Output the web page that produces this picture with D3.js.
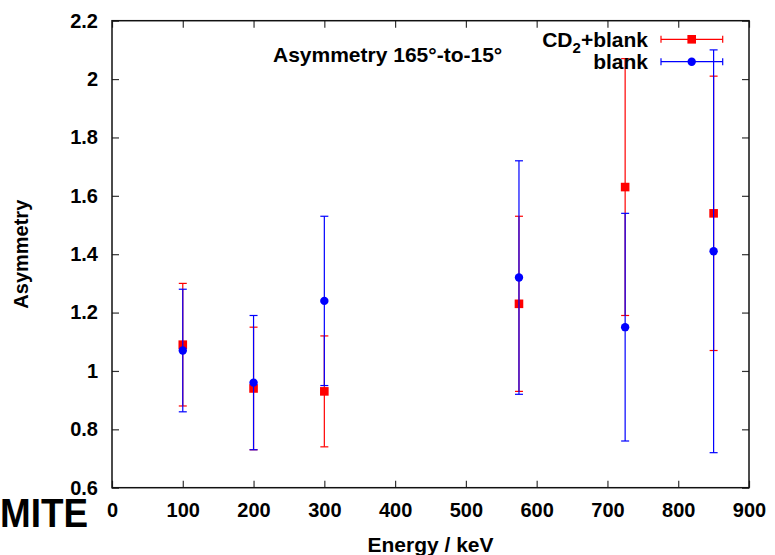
<!DOCTYPE html>
<html>
<head>
<meta charset="utf-8">
<script src="https://cdn.jsdelivr.net/npm/d3@7"></script>
<style>
  body { margin: 0; background: #fff; }
  text { font-family: "Liberation Sans", Arial, sans-serif; font-weight: bold; fill: #000; }
</style>
</head>
<body>
<div class="svg-container"></div>
<script>
// data
const energies = [100, 200, 300, 575, 725, 850];
const cd2Asym = [1.09, 0.94, 0.93, 1.23, 1.63, 1.54];
const cd2Low = [0.88, 0.73, 0.74, 0.93, 1.19, 1.07];
const cd2High = [1.30, 1.15, 1.12, 1.53, 2.07, 2.01];
const blankAsym = [1.07, 0.96, 1.24, 1.32, 1.15, 1.41];
const blankLow = [0.86, 0.73, 0.95, 0.92, 0.76, 0.72];
const blankHigh = [1.28, 1.19, 1.53, 1.72, 1.54, 2.10];
const xTicks = [0, 100, 200, 300, 400, 500, 600, 700, 800, 900];
const yTicks = [0.6, 0.8, 1, 1.2, 1.4, 1.6, 1.8, 2, 2.2];

const width = 775;
const height = 555;
const plot = { left: 112, right: 749, top: 20.7, bottom: 487.7 };
const tickLen = 7;
const capHalf = 4;

const svg = d3.select('.svg-container')
  .append('svg')
  .attr('width', width)
  .attr('height', height);

const x = d3.scaleLinear().domain([0, 900]).range([plot.left, plot.right]);
const y = d3.scaleLinear().domain([0.6, 2.2]).range([plot.bottom, plot.top]);

// axes with inward ticks on all four sides
const styleAxis = g => {
  g.select('.domain').remove();
  g.selectAll('.tick line').attr('stroke', '#333').attr('stroke-width', 1.2);
  g.selectAll('.tick text').style('font-size', '20px').attr('fill', '#000');
};

svg.append('g')
  .attr('transform', `translate(0,${plot.bottom})`)
  .call(d3.axisBottom(x).tickValues(xTicks).tickSizeInner(-tickLen).tickSizeOuter(0).tickPadding(15))
  .call(styleAxis);

svg.append('g')
  .attr('transform', `translate(0,${plot.top})`)
  .call(d3.axisTop(x).tickValues(xTicks).tickSizeInner(-tickLen).tickSizeOuter(0).tickFormat(''))
  .call(styleAxis);

svg.append('g')
  .attr('transform', `translate(${plot.left},0)`)
  .call(d3.axisLeft(y).tickValues(yTicks).tickSizeInner(-tickLen).tickSizeOuter(0).tickPadding(14)
    .tickFormat(d3.format('~g')))
  .call(styleAxis);

svg.append('g')
  .attr('transform', `translate(${plot.right},0)`)
  .call(d3.axisRight(y).tickValues(yTicks).tickSizeInner(-tickLen).tickSizeOuter(0).tickFormat(''))
  .call(styleAxis);

// frame
svg.append('rect')
  .attr('x', plot.left)
  .attr('y', plot.top)
  .attr('width', plot.right - plot.left)
  .attr('height', plot.bottom - plot.top)
  .attr('fill', 'none')
  .attr('stroke', '#111')
  .attr('stroke-width', 1.5);

// axis labels and title
svg.append('text')
  .attr('transform', `translate(28,${(plot.top + plot.bottom) / 2}) rotate(-90)`)
  .attr('text-anchor', 'middle')
  .style('font-size', '20px')
  .text('Asymmetry');

svg.append('text')
  .attr('x', (plot.left + plot.right) / 2)
  .attr('y', 552)
  .attr('text-anchor', 'middle')
  .style('font-size', '21px')
  .text('Energy / keV');

svg.append('text')
  .attr('x', 273)
  .attr('y', 62)
  .style('font-size', '21px')
  .text('Asymmetry 165°-to-15°');

// series: red first, blue drawn on top
const series = [
  { name: 'cd2', color: '#ff0000', vals: cd2Asym, lo: cd2Low, hi: cd2High, shape: 'square' },
  { name: 'blank', color: '#0000ff', vals: blankAsym, lo: blankLow, hi: blankHigh, shape: 'circle' }
];

series.forEach(s => {
  const pts = energies.map((e, i) => ({ e, v: s.vals[i], lo: s.lo[i], hi: s.hi[i] }));
  const g = svg.append('g').attr('stroke', s.color).attr('fill', s.color);

  g.selectAll('line.bar').data(pts).enter().append('line')
    .attr('x1', d => x(d.e)).attr('x2', d => x(d.e))
    .attr('y1', d => y(d.lo)).attr('y2', d => y(d.hi))
    .attr('stroke-width', 1.2);

  ['lo', 'hi'].forEach(k => {
    g.selectAll(`line.cap-${k}`).data(pts).enter().append('line')
      .attr('x1', d => x(d.e) - capHalf).attr('x2', d => x(d.e) + capHalf)
      .attr('y1', d => y(d[k])).attr('y2', d => y(d[k]))
      .attr('stroke-width', 1.2);
  });

  if (s.shape === 'square') {
    g.selectAll('rect').data(pts).enter().append('rect')
      .attr('x', d => x(d.e) - 4.3).attr('y', d => y(d.v) - 4.3)
      .attr('width', 8.6).attr('height', 8.6)
      .attr('stroke', 'none');
  } else {
    g.selectAll('circle').data(pts).enter().append('circle')
      .attr('cx', d => x(d.e)).attr('cy', d => y(d.v))
      .attr('r', 4.2)
      .attr('stroke', 'none');
  }
});

// legend
const legend = [
  { label: 'cd2', color: '#ff0000', shape: 'square', y: 39.3 },
  { label: 'blank', color: '#0000ff', shape: 'circle', y: 61.7 }
];
const keyX1 = 661, keyX2 = 722.7, keyMid = 691.7, keyTextX = 648;

legend.forEach(l => {
  const t = svg.append('text')
    .attr('x', keyTextX)
    .attr('y', l.y + 7.5)
    .attr('text-anchor', 'end')
    .style('font-size', '21px');
  if (l.label === 'cd2') {
    t.append('tspan').text('CD');
    t.append('tspan').attr('dy', 6).style('font-size', '15px').text('2');
    t.append('tspan').attr('dy', -6).text('+blank');
  } else {
    t.text('blank');
  }
  const g = svg.append('g').attr('stroke', l.color).attr('fill', l.color);
  g.append('line').attr('x1', keyX1).attr('x2', keyX2).attr('y1', l.y).attr('y2', l.y).attr('stroke-width', 1.2);
  [keyX1, keyX2].forEach(cx => {
    g.append('line').attr('x1', cx).attr('x2', cx).attr('y1', l.y - 3.5).attr('y2', l.y + 3.5).attr('stroke-width', 1.2);
  });
  if (l.shape === 'square') {
    g.append('rect').attr('x', keyMid - 4.3).attr('y', l.y - 4.3).attr('width', 8.6).attr('height', 8.6).attr('stroke', 'none');
  } else {
    g.append('circle').attr('cx', keyMid).attr('cy', l.y).attr('r', 4.2).attr('stroke', 'none');
  }
});

// logo text bottom left (overlaps the 0.6 label, as in the original)
svg.append('text')
  .attr('x', 0)
  .attr('y', 527)
  .attr('textLength', 88)
  .attr('lengthAdjust', 'spacingAndGlyphs')
  .style('font-size', '40px')
  .text('MITE');
</script>
</body>
</html>
